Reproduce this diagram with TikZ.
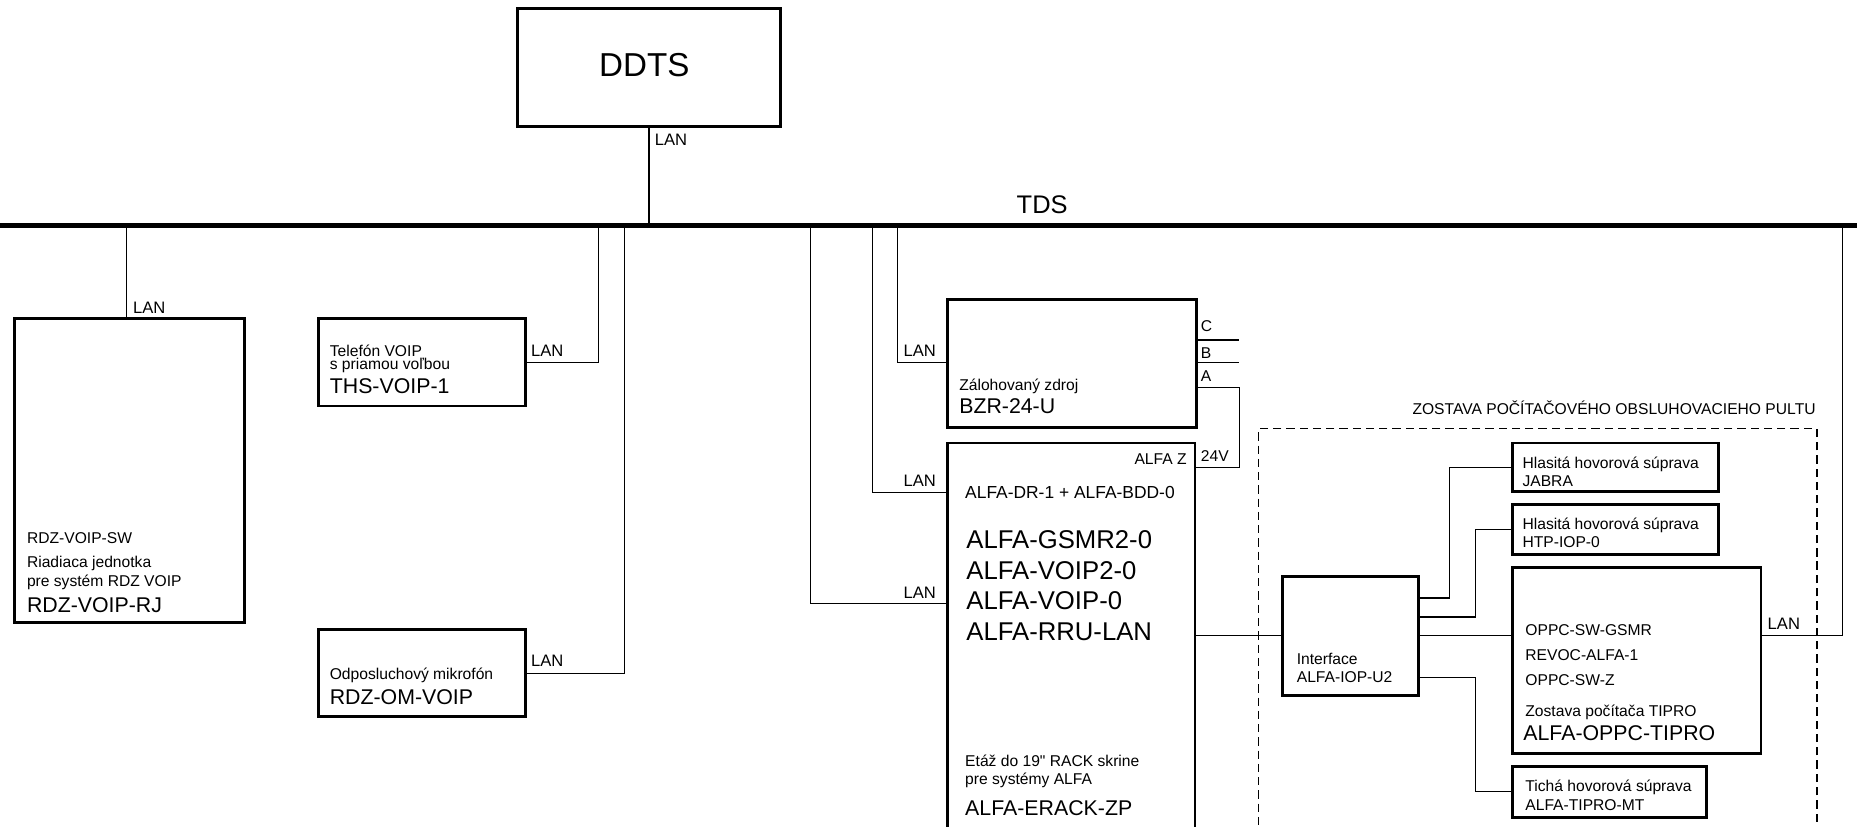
\documentclass[tikz,border=0pt]{standalone}
\usepackage{fontspec}
\setmainfont{Liberation Sans}
\newfontfamily\rawfont{Liberation Sans}[Ligatures=TeXOff]
\begin{document}
\begin{tikzpicture}[x=1pt,y=-1pt,
  box/.style={draw, line width=2.3pt, inner sep=0pt, outer sep=0pt, anchor=north west},
  dbox/.style={draw, line width=1.3pt, dash pattern=on 7pt off 4.2pt, inner sep=0pt, outer sep=0pt, anchor=north west},
  wire/.style={line width=1.1pt},
  bus/.style={line width=4.3pt},
  sm/.style={inner sep=0pt, outer sep=0pt, anchor=base west, font=\fontsize{13.2}{15}\selectfont},
  lan/.style={inner sep=0pt, outer sep=0pt, anchor=base west, font=\fontsize{14}{16}\selectfont},
  md/.style={inner sep=0pt, outer sep=0pt, anchor=base west, font=\fontsize{14.7}{17}\selectfont},
  lg/.style={inner sep=0pt, outer sep=0pt, anchor=base west, font=\fontsize{18}{21}\selectfont},
  xl/.style={inner sep=0pt, outer sep=0pt, anchor=base west, font=\fontsize{21.7}{25}\selectfont}
]
\useasboundingbox (0,0) rectangle (1568,698);
\clip (0,0) rectangle (1568,698);

% boxes
\node[box, minimum width=222pt, minimum height=100pt] (ddts) at (437,7) {};
\node[box, minimum width=194.4pt, minimum height=256.7pt] (rdz) at (12.3,268.8) {};
\node[box, minimum width=175pt, minimum height=74pt] (tel) at (269,268.8) {};
\node[box, minimum width=175pt, minimum height=73.6pt] (mic) at (269,531.4) {};
\node[box, minimum width=210pt, minimum height=108.2pt] (bzr) at (800,252.6) {};
\node[box, minimum width=209pt, minimum height=366pt] (alfa) at (800,374) {};
\node[dbox, minimum width=471.5pt, minimum height=398pt] (zost) at (1062.5,362) {};
\node[box, minimum width=115pt, minimum height=100pt] (iface) at (1083,487) {};
\node[box, minimum width=174pt, minimum height=41pt] (jabra) at (1277,374) {};
\node[box, minimum width=174pt, minimum height=42pt] (htp) at (1277,426) {};
\node[box, minimum width=210pt, minimum height=157pt] (oppc) at (1277,479) {};
\node[box, minimum width=164pt, minimum height=43pt] (tich) at (1277,647) {};

% bus
\coordinate (busL) at (0,190.4);
\coordinate (busR) at (1568,190.4);
\draw[bus] (busL) -- (busR);
\coordinate (t1) at (106.7,190.4);
\coordinate (t2) at (505.6,190.4);
\coordinate (t3) at (527.3,190.4);
\coordinate (t4) at (684.6,190.4);
\coordinate (t5) at (736.6,190.4);
\coordinate (t6) at (757.7,190.4);
\coordinate (t7) at (1555.5,190.4);

% connectors
\draw[wire] (ddts.south) -- (ddts.south |- busL);
\draw[wire] (t1) -- (t1 |- rdz.north);
\draw[wire] (t2) |- (tel.east |- 0,306);
\draw[wire] (t3) |- (mic.east |- 0,568.5);
\draw[wire] (t4) |- (alfa.west |- 0,509.5);
\draw[wire] (t5) |- (alfa.west |- 0,416);
\draw[wire] (t6) |- (bzr.west |- 0,306);
\coordinate (cC) at (1046.5,287);
\coordinate (cB) at (1046.5,306);
\coordinate (cA) at (1046.5,327);
\draw[wire] (bzr.east |- cC) -- (cC);
\draw[wire] (bzr.east |- cB) -- (cB);
\draw[wire] (bzr.east |- cA) -- (cA) |- (alfa.east |- 0,395);
\draw[wire] (alfa.east |- 0,536.5) -- (iface.west |- 0,536.5);
\draw[wire] (iface.east |- 0,505) -| ([xshift=-53pt]jabra.west) -- (jabra.west);
\draw[wire] (iface.east |- 0,521) -| ([xshift=-31pt]htp.west) -- (htp.west);
\draw[wire] (iface.east |- 0,536.5) -- (oppc.west |- 0,536.5);
\draw[wire] (iface.east |- 0,572) -| ([xshift=-31pt]tich.west) -- (tich.west);
\draw[wire] (oppc.east |- 0,536.5) -| (t7);

% labels on connectors
\node[lan] (lan1) at (553,123) {LAN};
\node[lan] (lan2) at (112.4,264.5) {LAN};
\node[lan] (lan3) at (448.4,301.2) {LAN};
\node[lan] (lan4) at (448.4,563) {LAN};
\node[lan] (lan5) at (763,301.2) {LAN};
\node[lan] (lan6) at (763,411) {LAN};
\node[lan] (lan7) at (763,505.2) {LAN};
\node[lan] (lan8) at (1492.6,531.4) {LAN};
\node[sm] (lc) at (1014,280) {C};
\node[sm] (lb) at (1014,303) {B};
\node[sm] (la) at (1014,322.3) {A};
\node[sm] (l24) at (1014,389.8) {24V};
\node[inner sep=0pt, anchor=base, font=\fontsize{21.5}{25}\selectfont] (tds) at (880,180) {TDS};
\node[inner sep=0pt, anchor=base, font=\fontsize{28}{32}\selectfont] (ddtst) at (544,64.7) {DDTS};

% RDZ
\node[sm] (r1) at (22.8,458.8) {RDZ-VOIP-SW};
\node[sm] (r2) at (22.8,479) {Riadiaca jednotka};
\node[sm] (r3) at (22.8,494.8) {pre systém RDZ VOIP};
\node[lg] (r4) at (22.8,517) {RDZ-VOIP-RJ};
% Tel
\node[sm] (te1) at (278.5,301.2) {Telefón VOIP};
\node[sm] (te2) at (278.5,311.8) {s priamou voľbou};
\node[lg] (te3) at (278.5,332.1) {THS-VOIP-1};
% Mic
\node[sm] (m1) at (278.5,573.6) {Odposluchový mikrofón};
\node[lg] (m2) at (278.5,594.5) {RDZ-OM-VOIP};
% BZR
\node[sm] (b1) at (810,329.9) {Zálohovaný zdroj};
\node[lg] (b2) at (810,349) {BZR-24-U};
% ALFA
\node[sm, anchor=base east] (a0) at (1002,392.6) {ALFA Z};
\node[md] (a1) at (815,420.8) {ALFA-DR-1 + ALFA-BDD-0};
\node[xl] (a2) at (816,463) {ALFA-GSMR2-0};
\node[xl] (a3) at (816,489) {ALFA-VOIP2-0};
\node[xl] (a4) at (816,515) {ALFA-VOIP-0};
\node[xl] (a5) at (816,541) {ALFA-RRU-LAN};
\node[sm] (a6) at (815,647.4) {\rawfont Etáž do 19" RACK skrine};
\node[sm] (a7) at (815,662.8) {pre systémy ALFA};
\node[lg] (a8) at (815,688.2) {ALFA-ERACK-ZP};
% group label
\node[sm, anchor=base east] (zl) at (1533,350.4) {ZOSTAVA POČÍTAČOVÉHO OBSLUHOVACIEHO PULTU};
% Interface
\node[sm] (i1) at (1095,561) {Interface};
\node[sm] (i2) at (1095,576.4) {ALFA-IOP-U2};
% JABRA
\node[sm] (j1) at (1285.6,395.5) {Hlasitá hovorová súprava};
\node[sm] (j2) at (1285.6,411) {JABRA};
% HTP
\node[sm] (h1) at (1285.6,447) {Hlasitá hovorová súprava};
\node[sm] (h2) at (1285.6,462.4) {HTP-IOP-0};
% OPPC
\node[sm] (o1) at (1288,537) {OPPC-SW-GSMR};
\node[sm] (o2) at (1288,557.8) {REVOC-ALFA-1};
\node[sm] (o3) at (1288,579) {OPPC-SW-Z};
\node[sm] (o4) at (1288,605) {Zostava počítača TIPRO};
\node[lg] (o5) at (1286.3,625.4) {ALFA-OPPC-TIPRO};
% Ticha
\node[sm] (ti1) at (1288,668.5) {Tichá hovorová súprava};
\node[sm] (ti2) at (1288,684) {ALFA-TIPRO-MT};
\end{tikzpicture}
\end{document}
